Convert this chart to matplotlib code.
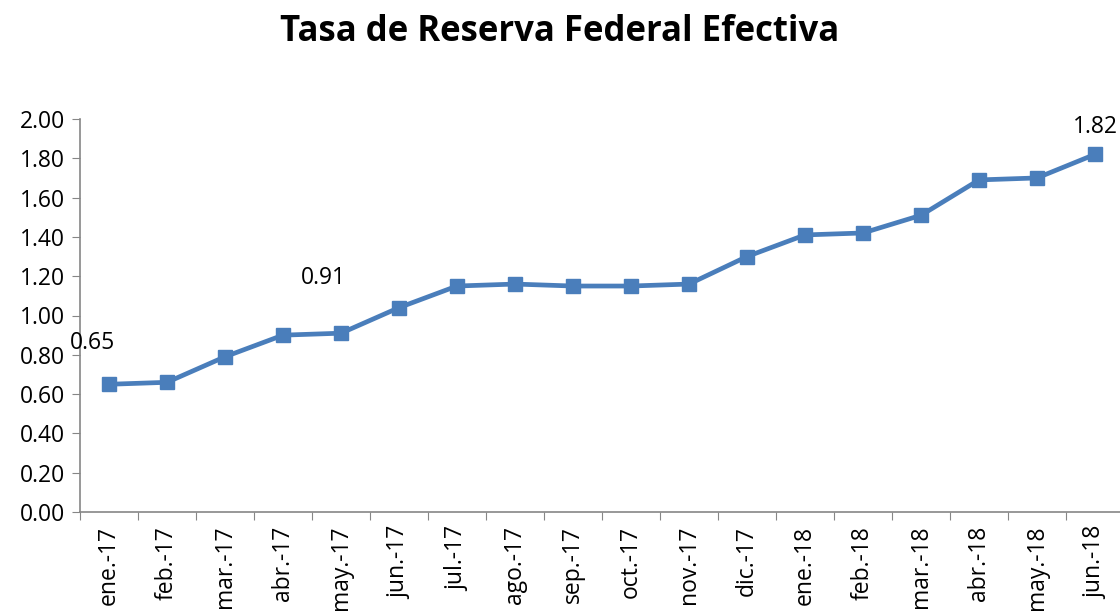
import matplotlib.pyplot as plt

meses = ['ene.-17', 'feb.-17', 'mar.-17', 'abr.-17', 'may.-17', 'jun.-17',
         'jul.-17', 'ago.-17', 'sep.-17', 'oct.-17', 'nov.-17', 'dic.-17',
         'ene.-18', 'feb.-18', 'mar.-18', 'abr.-18', 'may.-18', 'jun.-18']
tasa = [0.65, 0.66, 0.79, 0.90, 0.91, 1.04, 1.15, 1.16, 1.15, 1.15, 1.16,
        1.30, 1.41, 1.42, 1.51, 1.69, 1.70, 1.82]
yticks = [0.0, 0.2, 0.4, 0.6, 0.8, 1.0, 1.2, 1.4, 1.6, 1.8, 2.0]

plt.rcParams['font.family'] = ['Open Sans', 'DejaVu Sans']

fig = plt.figure(figsize=(11.2, 6.14), dpi=100)
ax = fig.add_axes([80/1120, 1 - 512/614, 1044/1120, 393/614])

x = list(range(len(meses)))
ax.plot(x, tasa, color='#4a7ebb', lw=3.4, marker='s', ms=10.5, clip_on=False)

ax.set_xlim(-0.5, len(meses) - 0.5)
ax.set_ylim(0, 2.0)
ax.set_yticks(yticks)
ax.set_yticklabels(['%.2f' % v for v in yticks], fontsize=16.5)
ax.set_xticks([i - 0.5 for i in range(len(meses) + 1)])
ax.set_xticklabels([])
ax.set_xticks(x, minor=True)
ax.set_xticklabels(meses, minor=True, rotation=90, fontsize=16.5, va='top')
ax.tick_params(axis='x', which='minor', length=0, pad=10)
ax.tick_params(axis='x', which='major', length=6, color='#868686')
ax.tick_params(axis='y', length=6, color='#868686', pad=5)

for s in ['top', 'right']:
    ax.spines[s].set_visible(False)
for s in ['left', 'bottom']:
    ax.spines[s].set_color('#868686')
    ax.spines[s].set_linewidth(1.2)

# etiquetas de datos
etiquetas = {0: (-12, 30), 4: (-13, 40), 17: (0, 20)}
for i, (dx, dy) in etiquetas.items():
    ax.annotate('%.2f' % tasa[i], (x[i], tasa[i]), xytext=(dx, dy),
                textcoords='offset points', ha='center', va='center', fontsize=16.5)

fig.suptitle('Tasa de Reserva Federal Efectiva', fontsize=25, fontweight='bold', y=0.978)

fig.savefig('out.png', dpi=100)
